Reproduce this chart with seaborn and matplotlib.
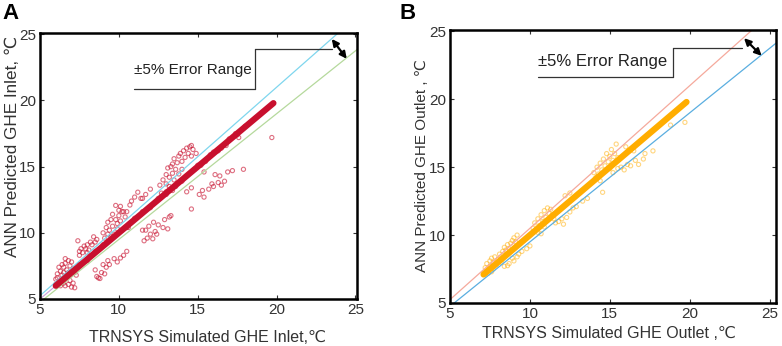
import matplotlib
matplotlib.use("Agg")
import matplotlib.pyplot as plt
import seaborn as sns

sns.set_theme(style="white")
plt.rcParams['font.family'] = ['Liberation Sans', 'DejaVu Sans']

# ---------------- data ----------------
ticks = [5, 10, 15, 20, 25]
ref_x = [5, 25.5]
ref_upper = [5.25, 26.775]   # +5%
ref_lower = [4.75, 24.225]   # -5%
diag_x = [5, 19.8]

# Panel A: inlet
a_band_x = [6.0, 8.0, 10.0, 12.0, 14.0, 16.0, 18.0, 19.8]
a_band_y = [6.0, 8.0, 10.0, 12.0, 14.0, 16.0, 18.0, 19.8]
a_x = [6.0, 6.1, 6.2, 6.3, 6.4, 6.5, 6.5, 6.6, 6.6, 6.7, 6.7, 6.8, 6.8, 6.9, 6.9, 7.0, 7.0, 7.1, 7.1, 7.2,
       6.3, 6.5, 6.2, 6.0, 6.4, 7.2, 6.8, 6.6, 7.3, 6.1,
       7.4, 7.5, 7.6, 7.7, 7.8, 7.9, 8.0, 8.1, 8.2, 8.3, 8.4, 8.5, 8.6, 7.5, 8.0,
       9.0, 9.1, 9.2, 9.3, 9.3, 9.4, 9.5, 9.6, 9.6, 9.7, 9.8, 9.8, 9.9, 10.0, 10.0, 10.1, 10.2, 10.3, 10.4, 10.5,
       10.6, 9.5, 10.2, 9.9, 10.1,
       8.5, 8.6, 8.7, 8.8, 8.9, 9.1, 9.2, 9.4, 9.3, 9.7, 9.9, 10.1, 10.3, 10.5, 9.0,
       10.8, 11.0, 11.2, 11.4, 11.5, 11.7, 12.0, 10.7,
       11.5, 11.7, 11.8, 11.9, 12.0, 12.15, 12.3, 12.4, 12.5, 12.8, 12.9, 13.1, 13.2, 13.3, 11.6, 12.2,
       12.6, 12.8, 13.0, 13.0, 13.1, 13.2, 13.3, 13.4, 13.4, 13.5, 13.6, 13.7, 13.8, 13.8, 13.9, 14.0, 14.1, 14.2,
       14.3, 14.4, 14.5, 14.6, 14.7, 14.9, 13.5, 14.0, 13.2, 14.6,
       12.7, 13.0, 13.4, 14.3, 14.6, 14.6, 15.1, 15.3, 15.4, 15.4, 15.9, 16.0, 16.3, 16.4, 16.5, 16.7, 16.9, 17.2,
       17.9, 16.1, 15.7, 13.6,
       17.6, 19.7, 17.4, 16.8,
       7.5, 8.0, 8.5, 9.0, 10.5, 11.0, 11.5, 12.0, 12.5, 13.0, 14.0, 15.0, 15.5, 16.0, 16.5, 17.0, 17.5, 18.0,
       15.8, 16.3, 15.2, 14.8]
a_y = [6.5, 6.9, 6.3, 7.1, 6.8, 7.4, 6.2, 7.7, 8.05, 7.2, 6.6, 7.9, 6.1, 7.5, 6.4, 7.8, 5.9, 6.2, 7.3, 5.85,
       6.0, 7.0, 7.4, 6.1, 7.6, 7.0, 7.0, 6.0, 6.8, 6.6,
       9.4, 8.6, 8.8, 8.5, 9.0, 8.8, 9.1, 8.7, 9.3, 9.1, 9.7, 9.3, 9.5, 8.3, 8.5,
       10.0, 9.6, 10.4, 9.9, 10.8, 10.2, 11.0, 10.5, 11.4, 9.9, 12.07, 11.0, 10.7, 11.3, 11.7, 10.9, 11.6, 11.6, 11.2, 11.6,
       10.4, 9.7, 10.2, 10.3, 12.0,
       7.2, 6.7, 6.6, 6.55, 7.0, 6.9, 7.4, 7.6, 7.9, 8.05, 7.8, 8.1, 8.3, 8.6, 7.6,
       12.4, 12.7, 13.07, 12.6, 12.6, 12.9, 13.3, 12.1,
       10.2, 10.2, 9.6, 10.5, 9.9, 9.55, 10.1, 9.9, 10.6, 10.4, 11.0, 10.3, 11.2, 11.3, 9.4, 10.8,
       13.6, 14.0, 13.7, 14.4, 14.9, 14.2, 15.0, 15.2, 14.5, 15.6, 14.8, 15.3, 14.45, 15.8, 16.0, 15.4, 16.2, 15.7,
       16.4, 16.0, 16.5, 16.6, 16.3, 16.0, 14.0, 14.8, 13.5, 15.8,
       13.0, 12.9, 13.2, 13.1, 11.8, 13.4, 12.9, 13.2, 12.7, 14.6, 13.7, 13.5, 13.8, 14.3, 13.6, 13.9, 14.6, 14.7,
       14.8, 14.4, 13.3, 13.5,
       17.2, 17.2, 17.5, 16.6,
       7.6, 7.9, 8.6, 9.1, 10.4, 11.1, 11.6, 11.9, 12.6, 13.1, 13.9, 15.1, 15.4, 16.1, 16.4, 17.1, 17.4, 18.05,
       15.9, 16.2, 15.1, 14.8]

# Panel B: outlet
b_band_x = [7.1, 9.0, 11.0, 13.0, 15.0, 17.0, 19.8]
b_band_y = [7.1, 9.0, 11.0, 13.0, 15.0, 17.0, 19.8]
b_x = [7.2, 7.3, 7.4, 7.5, 7.5, 7.6, 7.7, 7.7, 7.8, 7.9, 8.0, 8.1, 7.4, 7.6, 8.2, 7.3,
       8.4, 8.5, 8.6, 8.7, 8.8, 8.9, 9.0, 9.1, 9.2, 8.3,
       8.4, 8.6, 8.7, 9.0, 9.2, 9.3, 9.5, 9.8, 10.0, 8.9,
       10.2, 10.3, 10.4, 10.5, 10.6, 10.7, 10.8, 10.9, 11.0, 11.1, 11.2, 11.3, 11.4, 10.5, 10.9, 11.5, 10.7,
       11.6, 11.8, 12.0, 12.1, 12.3, 12.5, 12.7, 12.9, 13.3, 13.6, 12.2, 12.5,
       14.0, 14.1, 14.2, 14.3, 14.4, 14.5, 14.6, 14.7, 14.8, 14.9, 15.0, 15.1, 15.2, 15.3, 15.4, 15.5, 14.4, 15.0, 14.2,
       15.5, 15.7, 15.9, 16.1, 16.3, 16.6, 16.8, 17.1, 14.55, 15.2,
       17.2, 17.7, 18.8, 19.7, 16.0, 16.5]
b_y = [7.6, 7.9, 7.4, 8.1, 7.7, 8.3, 7.5, 8.0, 8.4, 7.8, 8.2, 8.6, 7.2, 7.3, 8.0, 7.3,
       9.1, 8.9, 9.3, 9.0, 9.4, 9.6, 9.8, 9.5, 10.0, 8.8,
       7.7, 7.75, 7.9, 8.1, 8.4, 8.6, 8.8, 9.0, 9.2, 8.3,
       10.5, 10.9, 10.4, 11.2, 10.7, 11.5, 11.0, 11.8, 11.3, 12.0, 11.6, 11.9, 11.5, 10.2, 10.6, 11.2, 10.1,
       10.9, 11.0, 11.2, 10.8, 11.3, 11.7, 12.0, 12.1, 12.5, 12.7, 12.9, 13.1,
       14.6, 14.2, 15.0, 14.5, 15.3, 14.8, 15.6, 15.1, 16.0, 15.4, 15.8, 16.3, 15.5, 16.0, 16.7, 15.7, 14.0, 14.9, 14.3,
       14.9, 15.0, 14.8, 15.2, 15.1, 15.5, 15.2, 15.6, 13.15, 14.6,
       16.0, 16.2, 18.1, 18.3, 16.5, 16.2]

label_text = "\u00b15% Error Range"

# ---------------- figure ----------------
fig = plt.figure(figsize=(7.82, 3.46), dpi=100)
axA = fig.add_axes([40 / 782, 47 / 346, 317 / 782, 266 / 346])
axB = fig.add_axes([450 / 782, 43 / 346, 326 / 782, 273 / 346])

def style_axis(ax, xmax, xlabel, ylabel, xl_pos, yl_pos, xl_size, yl_size):
    ax.set_xlim(5, xmax)
    ax.set_ylim(5, 25.1)
    ax.set_xticks(ticks)
    ax.set_yticks(ticks)
    ax.set_xticklabels([str(t) for t in ticks])
    ax.set_yticklabels([str(t) for t in ticks])
    ax.tick_params(direction='in', length=3, width=0.8, colors='#333333', labelsize=11,
                   top=True, right=True, bottom=True, left=True, pad=3)
    for s in ax.spines.values():
        s.set_color('black')
        s.set_linewidth(1.8)
        s.set_visible(True)
    ax.set_xlabel(xlabel, fontsize=xl_size, color='#333333', va='center')
    ax.set_ylabel(ylabel, fontsize=yl_size, color='#333333', va='center')
    ax.xaxis.set_label_coords(*xl_pos)
    ax.yaxis.set_label_coords(*yl_pos)
    ax.grid(False)

def annotate(ax, x0, x1, x2, y_low, y_high, arr_start, arr_end, text_y, size):
    ax.plot([x0, x1], [y_low, y_low], color='#333333', lw=0.9)
    ax.plot([x1, x1], [y_low, y_high], color='#333333', lw=0.9)
    ax.plot([x1, x2], [y_high, y_high], color='#333333', lw=0.9)
    ax.annotate('', xy=arr_end, xytext=arr_start,
                arrowprops=dict(arrowstyle='<|-|>', color='black', lw=1.6,
                                mutation_scale=10, shrinkA=0, shrinkB=0))
    ax.text(x0, text_y, label_text, fontsize=size, color='#222222', va='center', ha='left')

# Panel A
sns.lineplot(x=ref_x, y=ref_upper, ax=axA, color='#7fd6ee', lw=0.9)
sns.lineplot(x=ref_x, y=ref_lower, ax=axA, color='#b5d99c', lw=0.9)
sns.lineplot(x=diag_x, y=diag_x, ax=axA, color='#c7a0d8', lw=0.8)
sns.scatterplot(x=a_x, y=a_y, ax=axA, marker='o', s=9, facecolor='none',
                edgecolor='#c8102e', linewidth=0.8, alpha=0.6)
sns.lineplot(x=a_band_x, y=a_band_y, ax=axA, color='#c8102e', lw=4.5, solid_capstyle='round')
style_axis(axA, 25.1, "TRNSYS Simulated GHE Inlet,\u2103", "ANN Predicted GHE Inlet, \u2103",
           (0.527, -0.143), (-0.088, 0.575), 11.5, 12.3)
annotate(axA, 10.93, 18.63, 23.5, 20.86, 23.87, (23.5, 24.65), (24.45, 23.15), 22.3, 11)

# Panel B
sns.lineplot(x=ref_x, y=ref_upper, ax=axB, color='#f5a99c', lw=0.9)
sns.lineplot(x=ref_x, y=ref_lower, ax=axB, color='#5aaee0', lw=0.9)
sns.scatterplot(x=b_x, y=b_y, ax=axB, marker='o', s=9, facecolor='none',
                edgecolor='#ffad00', linewidth=0.8, alpha=0.5)
sns.lineplot(x=b_band_x, y=b_band_y, ax=axB, color='#ffad00', lw=4.5, solid_capstyle='round')
style_axis(axB, 25.4, "TRNSYS Simulated GHE Outlet ,\u2103", "ANN Predicted GHE Outlet , \u2103",
           (0.488, -0.11), (-0.086, 0.505), 11.5, 11)
annotate(axB, 10.5, 18.94, 23.3, 21.67, 23.8, (23.4, 24.5), (24.5, 23.2), 22.8, 12)

fig.text(0.003, 0.962, "A", fontsize=16, fontweight='bold', color='black', va='center', ha='left')
fig.text(0.511, 0.962, "B", fontsize=16, fontweight='bold', color='black', va='center', ha='left')

fig.savefig("out.png", dpi=100)
